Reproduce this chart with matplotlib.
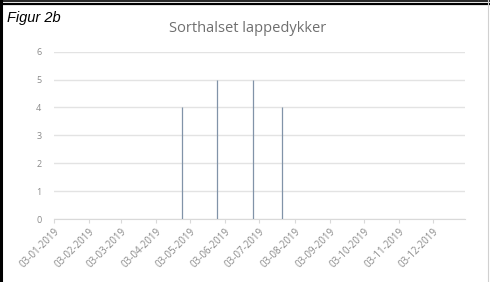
import numpy as np
import matplotlib.pyplot as plt
import matplotlib.dates as mdates
from matplotlib.lines import Line2D
import datetime as dt

# observations
obs_dates = [dt.date(2019, 4, 26), dt.date(2019, 5, 27), dt.date(2019, 6, 27), dt.date(2019, 7, 23)]
obs_counts = [4, 5, 5, 4]

tick_dates = [dt.date(2019, m, 3) for m in range(1, 13)]
tick_labels = [d.strftime("%d-%m-%Y") for d in tick_dates]
y_ticks = [0, 1, 2, 3, 4, 5, 6]

fig = plt.figure(figsize=(4.9, 2.82), dpi=100)
ax = fig.add_axes([0.110, 0.223, 0.839, 0.594])

ax.vlines(mdates.date2num(obs_dates), 0, obs_counts, color="#8193a8", linewidth=0.9, zorder=3)

ax.set_xlim(mdates.date2num(dt.date(2019, 1, 3)), mdates.date2num(dt.date(2019, 12, 31)))
ax.set_ylim(0, 6)
ax.set_yticks(y_ticks)
ax.set_yticklabels([str(v) for v in y_ticks], fontsize=6.5, color="#8a8a8a", family="Open Sans")
ax.set_xticks(mdates.date2num(tick_dates))
ax.set_xticklabels(tick_labels, rotation=45, ha="right", rotation_mode="anchor",
                   fontsize=7, color="#8a8a8a", family="Open Sans")

ax.grid(axis="y", color="#e3e3e3", linewidth=1.0)
ax.set_axisbelow(True)
for s in ["top", "right", "left"]:
    ax.spines[s].set_visible(False)
ax.spines["bottom"].set_color("#d9d9d9")
ax.tick_params(axis="y", length=0, pad=9)
ax.tick_params(axis="x", length=3, color="#d9d9d9", pad=2)

fig.text(0.505, 0.9, "Sorthalset lappedykker", ha="center", va="center",
         fontsize=10.5, color="#6f6f6f", family="Open Sans")
fig.text(0.014, 0.937, "Figur 2b", ha="left", va="center", fontsize=10.5,
         style="italic", color="black", family="Liberation Sans")

# frame around the figure
fig.add_artist(Line2D([0, 1], [0.998, 0.998], transform=fig.transFigure, color="black", lw=1.2))
fig.add_artist(Line2D([0, 1], [0.987, 0.987], transform=fig.transFigure, color="black", lw=1.6))
fig.add_artist(Line2D([0.003, 0.003], [0, 1], transform=fig.transFigure, color="black", lw=2.2))
fig.add_artist(Line2D([0.996, 0.996], [0, 1], transform=fig.transFigure, color="#d0d0d0", lw=0.8))

fig.savefig("out.png", dpi=100)
